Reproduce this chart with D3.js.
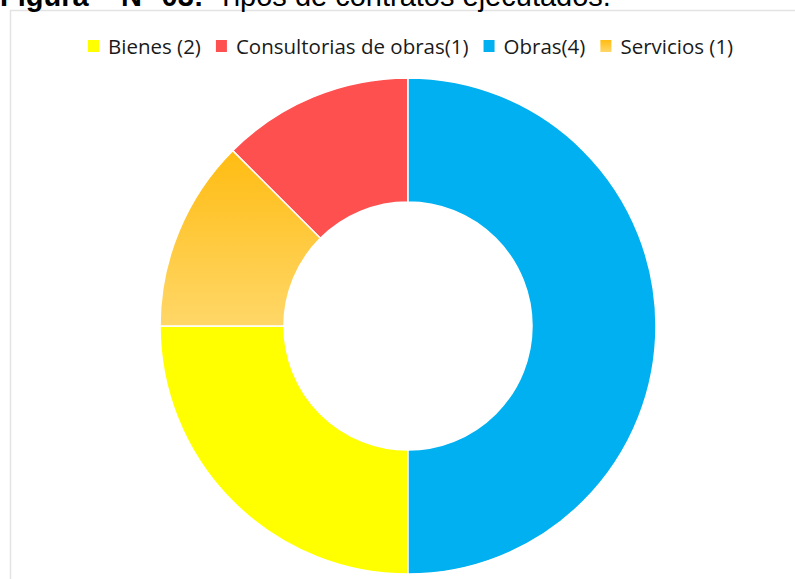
<!DOCTYPE html>
<html>
<head>
<meta charset="utf-8">
<script src="https://cdn.jsdelivr.net/npm/d3@7"></script>
<style>
body { margin: 0; background: #fff; }
svg { display: block; }
</style>
</head>
<body>
<div id="chart"></div>
<script>
// data
var categories = ["Bienes (2)", "Consultorias de obras(1)", "Obras(4)", "Servicios (1)"];
var values = [2, 1, 4, 1];
// order the slices are drawn in, clockwise from 12 o'clock
var drawOrder = ["Obras(4)", "Bienes (2)", "Servicios (1)", "Consultorias de obras(1)"];
var colors = ["#FFFF00", "#FF5050", "#00B0F0", "url(#servGrad)"];

var width = 795, height = 579;

var svg = d3.select("#chart")
    .append("svg")
        .attr("width", width)
        .attr("height", height);

var defs = svg.append("defs");
var grad = defs.append("linearGradient")
    .attr("id", "servGrad")
    .attr("x1", 0).attr("y1", 0).attr("x2", 0).attr("y2", 1);
grad.append("stop").attr("offset", "0%").attr("stop-color", "#FFBC12");
grad.append("stop").attr("offset", "100%").attr("stop-color", "#FFD768");

// chart frame
svg.append("rect")
    .attr("x", 10.5).attr("y", 10.5)
    .attr("width", 800).attr("height", 600)
    .attr("fill", "#fff")
    .attr("stroke", "#e3e3e3")
    .attr("stroke-width", 1.5);

// title (cut at the top like the original)
var title = svg.append("text")
    .attr("y", 6)
    .attr("font-family", "Liberation Sans, Arial, sans-serif")
    .attr("font-size", 29)
    .attr("fill", "#000");
title.append("tspan").attr("x", 0).attr("font-weight", "bold").text("Figura");
title.append("tspan").attr("x", 121).attr("font-weight", "bold").text("N° 03:");
title.append("tspan").attr("x", 217).text("Tipos de contratos ejecutados.");

var color = d3.scaleOrdinal().domain(categories).range(colors);

var data = categories.map(function(c, i) { return {name: c, value: values[i]}; });

var pie = d3.pie()
    .value(function(d) { return d.value; })
    .sort(function(a, b) { return drawOrder.indexOf(a.name) - drawOrder.indexOf(b.name); });

var arc = d3.arc()
    .innerRadius(124)
    .outerRadius(248);

var g = svg.append("g")
    .attr("transform", "translate(408,326)");

g.selectAll("path")
    .data(pie(data))
    .enter()
    .append("path")
    .attr("d", arc)
    .attr("fill", function(d) { return color(d.data.name); })
    .attr("stroke", "#fff")
    .attr("stroke-width", 1.5);

// legend
var legend = svg.append("g")
    .attr("font-family", "Open Sans, sans-serif")
    .attr("font-size", 20.5)
    .attr("fill", "#1a1a1a");

var lx = 88;
categories.forEach(function(c) {
    var item = legend.append("g").attr("transform", "translate(" + lx + ",40)");
    item.append("rect")
        .attr("width", 11).attr("height", 12)
        .attr("fill", color(c));
    var t = item.append("text")
        .attr("x", 20)
        .attr("y", 14)
        .text(c);
    lx += 20 + t.node().getComputedTextLength() + 15;
});
</script>
</body>
</html>
